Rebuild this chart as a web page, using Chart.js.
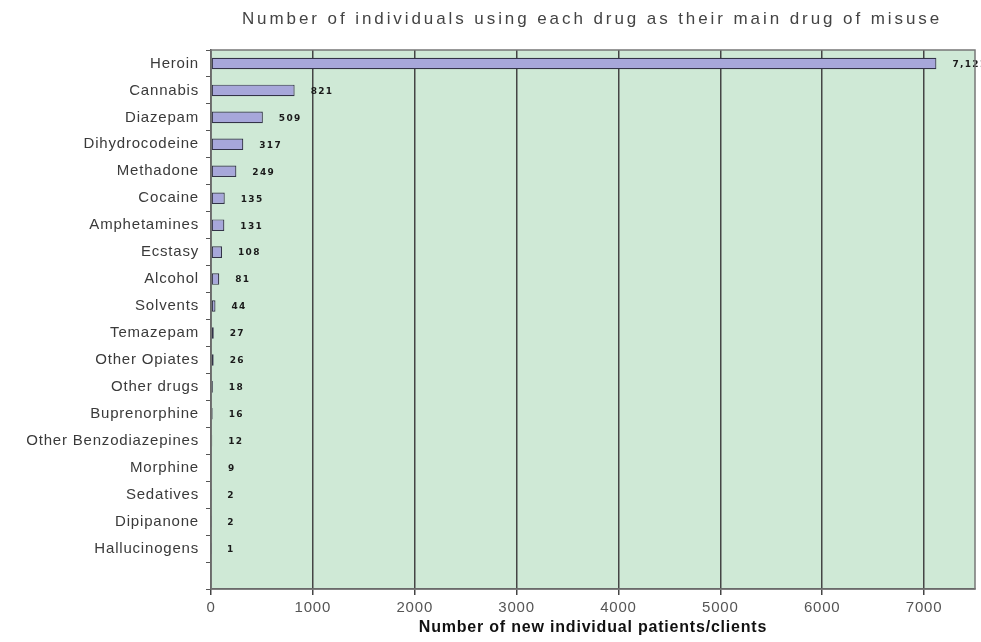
<!DOCTYPE html>
<html lang="en">
<head>
  <meta charset="UTF-8">
  <title>Main drug of misuse</title>
  <script src="https://cdn.jsdelivr.net/npm/chart.js@4.4.1/dist/chart.umd.min.js"></script>
  <style>
    html, body { margin: 0; padding: 0; background: #fff; }
    #wrap { width: 981px; height: 642px; }
  </style>
</head>
<body>
  <div id="wrap"><canvas id="chart"></canvas></div>

  <script>
    // data
    const drugs = [
      "Heroin", "Cannabis", "Diazepam", "Dihydrocodeine", "Methadone",
      "Cocaine", "Amphetamines", "Ecstasy", "Alcohol", "Solvents",
      "Temazepam", "Other Opiates", "Other drugs", "Buprenorphine",
      "Other Benzodiazepines", "Morphine", "Sedatives", "Dipipanone", "Hallucinogens"
    ];
    const patients = [7121, 821, 509, 317, 249, 135, 131, 108, 81, 44, 27, 26, 18, 16, 12, 9, 2, 2, 1];
    const xTicks = [0, 1000, 2000, 3000, 4000, 5000, 6000, 7000];
    const chartTitle = "Number of individuals using each drug as their main drug of misuse";
    const xTitle = "Number of new individual patients/clients";

    Chart.defaults.font.family = "'Liberation Sans', Arial, sans-serif";

    // green plot background + frame; the old chart text is a bit spaced out
    const plotBackground = {
      id: "plotBackground",
      beforeDraw(chart) {
        const { ctx, chartArea: a } = chart;
        if ("letterSpacing" in ctx) ctx.letterSpacing = "0.8px";
        ctx.save();
        ctx.fillStyle = "#cfe9d6";
        ctx.fillRect(a.left, a.top, a.right - a.left, a.bottom - a.top);
        ctx.restore();
      },
      afterDraw(chart) {
        const { ctx, chartArea: a } = chart;
        ctx.save();
        ctx.strokeStyle = "#777";
        ctx.lineWidth = 1.5;
        ctx.strokeRect(a.left, a.top, a.right - a.left, a.bottom - a.top);
        ctx.restore();
      }
    };

    // title drawn by hand so it can be stretched like the original
    const spacedTitle = {
      id: "spacedTitle",
      afterDraw(chart) {
        const ctx = chart.ctx;
        ctx.save();
        ctx.font = "17px 'Liberation Sans', Arial, sans-serif";
        ctx.fillStyle = "#444";
        ctx.textAlign = "center";
        ctx.textBaseline = "middle";
        if ("letterSpacing" in ctx) {
          ctx.letterSpacing = "0px";
          const w = ctx.measureText(chartTitle).width;
          ctx.letterSpacing = Math.max(0, (700 - w) / chartTitle.length).toFixed(2) + "px";
        }
        ctx.fillText(chartTitle, 592, 19);
        ctx.restore();
      }
    };

    // value next to each bar
    const valueLabels = {
      id: "valueLabels",
      afterDatasetsDraw(chart) {
        const ctx = chart.ctx;
        const meta = chart.getDatasetMeta(0);
        const values = chart.data.datasets[0].data;
        ctx.save();
        ctx.font = "bold 9px 'DejaVu Sans', sans-serif";
        ctx.fillStyle = "#1a1a1a";
        ctx.textAlign = "left";
        ctx.textBaseline = "middle";
        if ("letterSpacing" in ctx) ctx.letterSpacing = "1.3px";
        meta.data.forEach((bar, i) => {
          if (values[i] == null) return;
          ctx.fillText(values[i].toLocaleString("en-US"), bar.x + 16, bar.y + 1);
        });
        ctx.restore();
      }
    };

    const ctx = document.getElementById("chart").getContext("2d");
    new Chart(ctx, {
      type: "bar",
      data: {
        // one empty slot at the bottom, as in the original
        labels: [...drugs, ""],
        datasets: [{
          data: [...patients, null],
          backgroundColor: "#a7a7da",
          borderColor: "#333348",
          borderWidth: 1.2,
          borderSkipped: false,
          barPercentage: 0.43,
          categoryPercentage: 1.0
        }]
      },
      options: {
        indexAxis: "y",
        responsive: true,
        maintainAspectRatio: false,
        animation: false,
        layout: { padding: { top: 50, right: 6, left: 0, bottom: 0 } },
        plugins: {
          legend: { display: false },
          title: { display: false },
          tooltip: { enabled: false }
        },
        scales: {
          x: {
            type: "linear",
            min: 0,
            max: 7500,
            afterFit(scale) { scale.height = 53; },
            afterBuildTicks(scale) { scale.ticks = xTicks.map(v => ({ value: v })); },
            ticks: {
              font: { size: 15 },
              color: "#555",
              padding: 4,
              callback: v => String(v)
            },
            grid: {
              color: "#454545",
              lineWidth: 1.5,
              tickLength: 6
            },
            border: { color: "#454545", width: 1.5 },
            title: {
              display: true,
              text: xTitle,
              font: { size: 16, weight: "bold" },
              color: "#111",
              padding: { top: 0, bottom: 5 }
            }
          },
          y: {
            afterFit(scale) { scale.width = 211; },
            ticks: {
              font: { size: 15 },
              color: "#3a3a3a",
              padding: 7
            },
            grid: {
              drawOnChartArea: false,
              color: "#555",
              tickLength: 5
            },
            border: { color: "#454545", width: 1.5 }
          }
        }
      },
      plugins: [plotBackground, spacedTitle, valueLabels]
    });
  </script>
</body>
</html>
